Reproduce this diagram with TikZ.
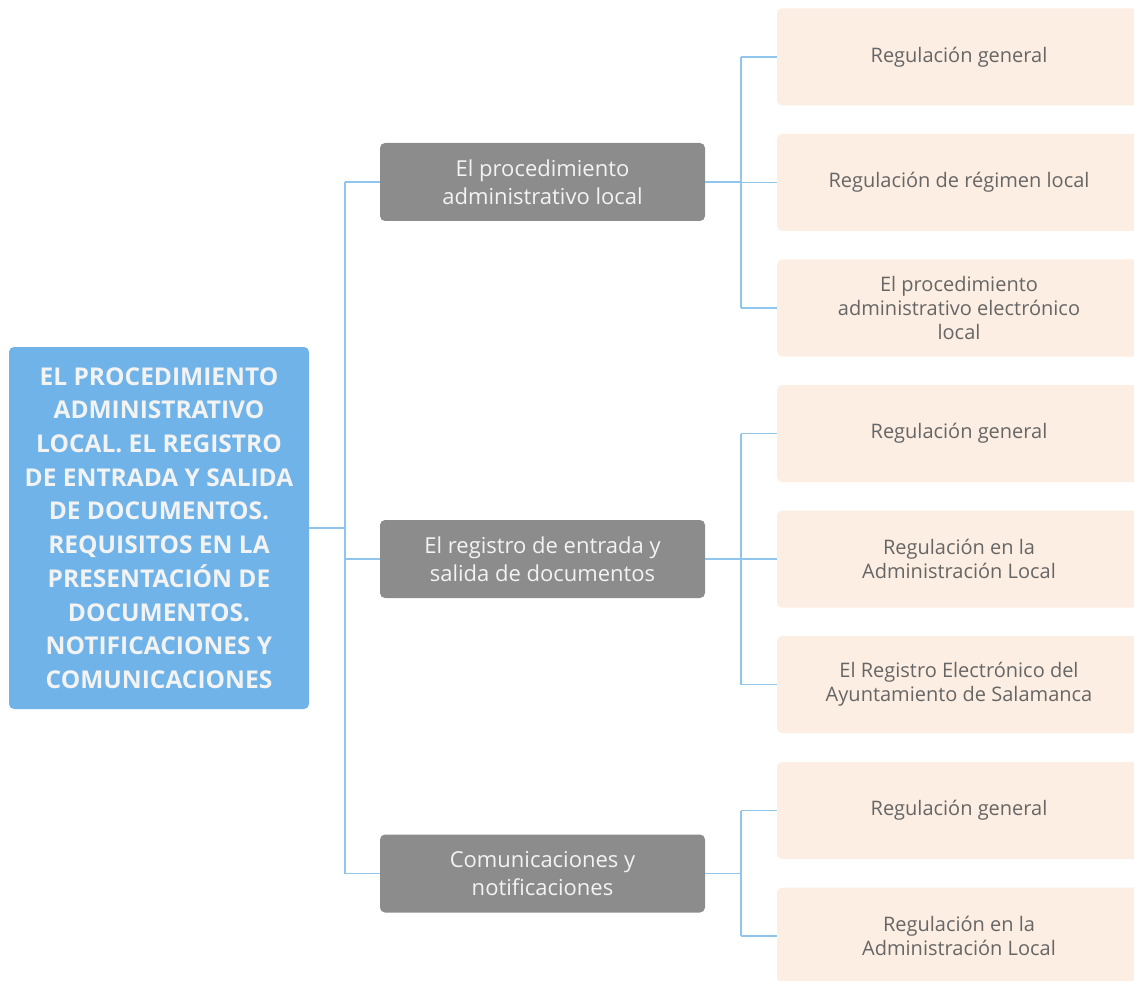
\documentclass[tikz,border=0pt]{standalone}
\usepackage{fontspec}
\setmainfont{Open Sans}
\definecolor{rootblue}{HTML}{6FB3E8}
\definecolor{topicgray}{HTML}{8C8C8C}
\definecolor{leafpeach}{HTML}{FDEEE3}
\definecolor{leaftext}{HTML}{666666}
\definecolor{linkblue}{HTML}{90C5EE}
\definecolor{softwhite}{HTML}{F3F3F3}
\tikzset{
  rootbox/.style={draw=none, fill=rootblue, rounded corners=5pt, minimum width=300pt,
    minimum height=362pt, inner sep=0pt, align=center, text=softwhite,
    font=\fontsize{24.5}{33.7}\selectfont\bfseries},
  topicbox/.style={draw=none, fill=topicgray, rounded corners=5pt, minimum width=325pt,
    minimum height=78pt, inner sep=0pt, align=center, text=softwhite,
    font=\fontsize{22}{28}\selectfont},
  leafbox/.style={draw=none, fill=leafpeach, rounded corners=5pt, minimum width=364pt,
    minimum height=97pt, inner sep=0pt, align=center, text=leaftext,
    font=\fontsize{20}{24}\selectfont},
  link/.style={draw=linkblue, line width=1.5pt}
}
\begin{document}
\begin{tikzpicture}[x=1pt,y=-1pt]
\useasboundingbox (0,0) rectangle (1134,981);

% central topic
\node[rootbox] (root) at (159,528) {EL PROCEDIMIENTO\\ADMINISTRATIVO\\LOCAL. EL REGISTRO\\DE ENTRADA Y SALIDA\\DE DOCUMENTOS.\\REQUISITOS EN LA\\PRESENTACIÓN DE\\DOCUMENTOS.\\NOTIFICACIONES Y\\COMUNICACIONES};

% main branches
\node[topicbox] (t1) at (542.5,182) {El procedimiento\\administrativo local};
\node[topicbox] (t2) at (542.5,559) {El registro de entrada y\\salida de documentos};
\node[topicbox] (t3) at (542.5,873.5) {Comunicaciones y\\notificaciones};

% sub-branches
\node[leafbox] (l1) at (959,57) {Regulación general};
\node[leafbox] (l2) at (959,182.5) {Regulación de régimen local};
\node[leafbox] (l3) at (959,308) {El procedimiento\\administrativo electrónico\\local};
\node[leafbox] (l4) at (959,433.5) {Regulación general};
\node[leafbox] (l5) at (959,559) {Regulación en la\\Administración Local};
\node[leafbox] (l6) at (959,684.5) {El Registro Electrónico del\\Ayuntamiento de Salamanca};
\node[leafbox] (l7) at (959,810.5) {Regulación general};
\node[leafbox] (l8) at (959,936) {Regulación en la\\Administración Local};

% trunk from the central topic
\coordinate (j0) at (345,528);
\draw[link] (root.east |- j0) -- (j0);
\draw[link] (j0 |- t1.west) -- (j0 |- t3.west);
\foreach \t in {t1,t2,t3}
  \draw[link] (j0 |- \t.west) -- (\t.west);

% branch joints
\coordinate (j1) at (741,182);
\coordinate (j2) at (741,559);
\coordinate (j3) at (741,873.5);
\draw[link] (t1.east) -- (j1);
\draw[link] (t2.east) -- (j2);
\draw[link] (t3.east) -- (j3);
\draw[link] (j1 |- l1.west) -- (j1 |- l3.west);
\draw[link] (j2 |- l4.west) -- (j2 |- l6.west);
\draw[link] (j3 |- l7.west) -- (j3 |- l8.west);
\foreach \l/\j in {l1/j1,l2/j1,l3/j1,l4/j2,l5/j2,l6/j2,l7/j3,l8/j3}
  \draw[link] (\j |- \l.west) -- (\l.west);
\end{tikzpicture}
\end{document}
